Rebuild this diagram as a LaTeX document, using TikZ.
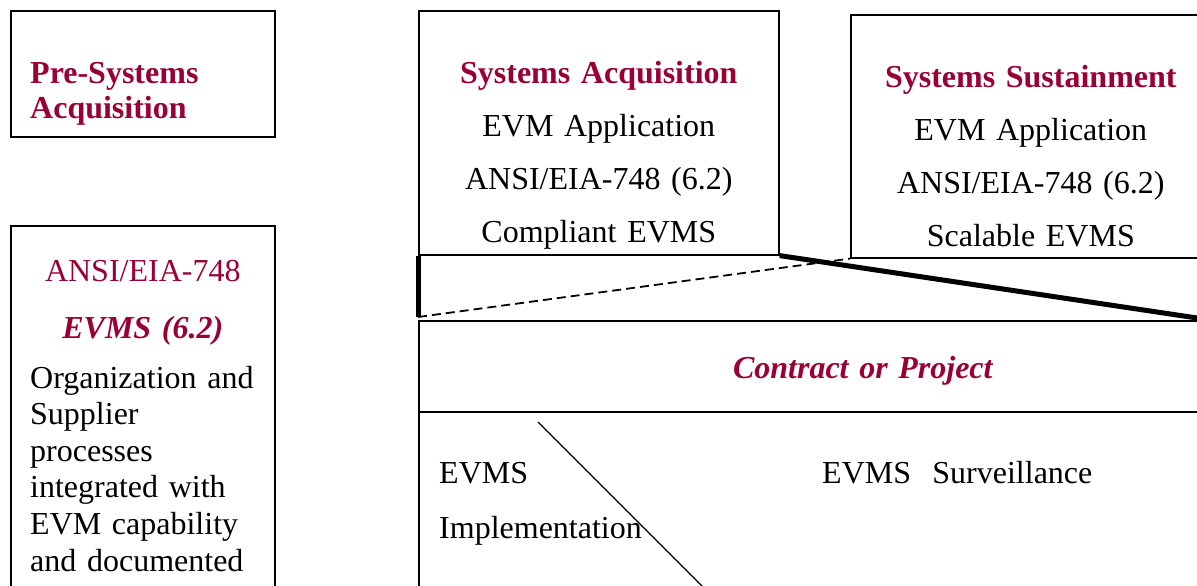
\documentclass[tikz,border=0pt]{standalone}
\usepackage{fontspec}
\setmainfont{Liberation Serif}
\usetikzlibrary{positioning,calc}
\definecolor{evmred}{RGB}{153,0,51}
\tikzset{
  phasebox/.style={rectangle,draw=black,line width=1.6pt,inner sep=0pt,anchor=north west},
  phasetext/.style={font=\fontsize{32}{53}\selectfont,align=center,text width=360pt,
    inner sep=0pt,anchor=base},
  lefttext/.style={font=\fontsize{32}{36.6}\selectfont,align=left,text width=250pt,
    inner sep=0pt,anchor=base west},
  thickln/.style={draw=black,line width=5pt},
  dashln/.style={draw=black,line width=1.8pt,dash pattern=on 9pt off 5pt},
}
\begin{document}
\begin{tikzpicture}[x=1pt,y=-1pt]
  \useasboundingbox (0,0) rectangle (1197,586);
  \clip (0,0) rectangle (1197,586);
  % phase boxes
  \node[phasebox,minimum width=264pt,minimum height=126pt] (pre) at (10,10) {};
  \node[phasebox,minimum width=264pt,minimum height=400pt] (std) at (10,225) {};
  \node[phasebox,minimum width=360pt,minimum height=244pt] (acq) at (418,10) {};
  \node[phasebox,minimum width=360pt,minimum height=243pt] (sus) at (850,14) {};
  \node[phasebox,minimum width=888pt,minimum height=91pt] (cp) at (418,320) {};
  \node[phasebox,minimum width=888pt,minimum height=300pt] (impl) at (418,411) {};
  % texts
  \node[lefttext,font=\fontsize{32}{35}\selectfont\bfseries,text=evmred] (pretxt)
    at ($(pre.north west)+(20,74)$) {Pre-Systems\\Acquisition};
  \node[phasetext,font=\fontsize{32}{57}\selectfont,text=evmred,text width=250pt] (stdtitle)
    at ($(std.north)+(0,56)$) {ANSI/EIA-748\\\textbf{\textit{EVMS (6.2)}}};
  \node[lefttext] (stdtxt) at ($(std.north west)+(20,163)$)
    {Organization and\\Supplier\\processes\\integrated with\\EVM capability\\and documented};
  \node[phasetext] (acqtxt) at ($(acq.north)+(0,74)$)
    {\textcolor{evmred}{\textbf{Systems Acquisition}}\\EVM Application\\ANSI/EIA-748 (6.2)\\Compliant EVMS};
  \node[phasetext] (sustxt) at ($(sus.north)+(0,74)$)
    {\textcolor{evmred}{\textbf{Systems Sustainment}}\\EVM Application\\ANSI/EIA-748 (6.2)\\Scalable EVMS};
  \node[phasetext,text=evmred,font=\fontsize{32}{40}\selectfont\bfseries\itshape] (cptxt)
    at ($(cp.north)+(0,58)$) {Contract or Project};
  \node[lefttext,font=\fontsize{32}{55}\selectfont] (impltxt)
    at ($(impl.north west)+(21,72)$) {EVMS\\Implementation};
  \node[lefttext,text width=330pt] (survtxt) at ($(impl.north west)+(404,72)$) {EVMS\ \ Surveillance};
  % zoom lines
  \coordinate (cpend) at (1197,318);
  \coordinate (dashstart) at (418,317);
  \coordinate (diagtop) at (538,422);
  \draw[thickln] (acq.south east) -- (cpend);
  \draw[thickln] (acq.south west) -- (dashstart);
  \draw[dashln] (dashstart) -- (sus.south west);
  \draw[line width=1.1pt] (diagtop) -- ++(180,180);
\end{tikzpicture}
\end{document}
